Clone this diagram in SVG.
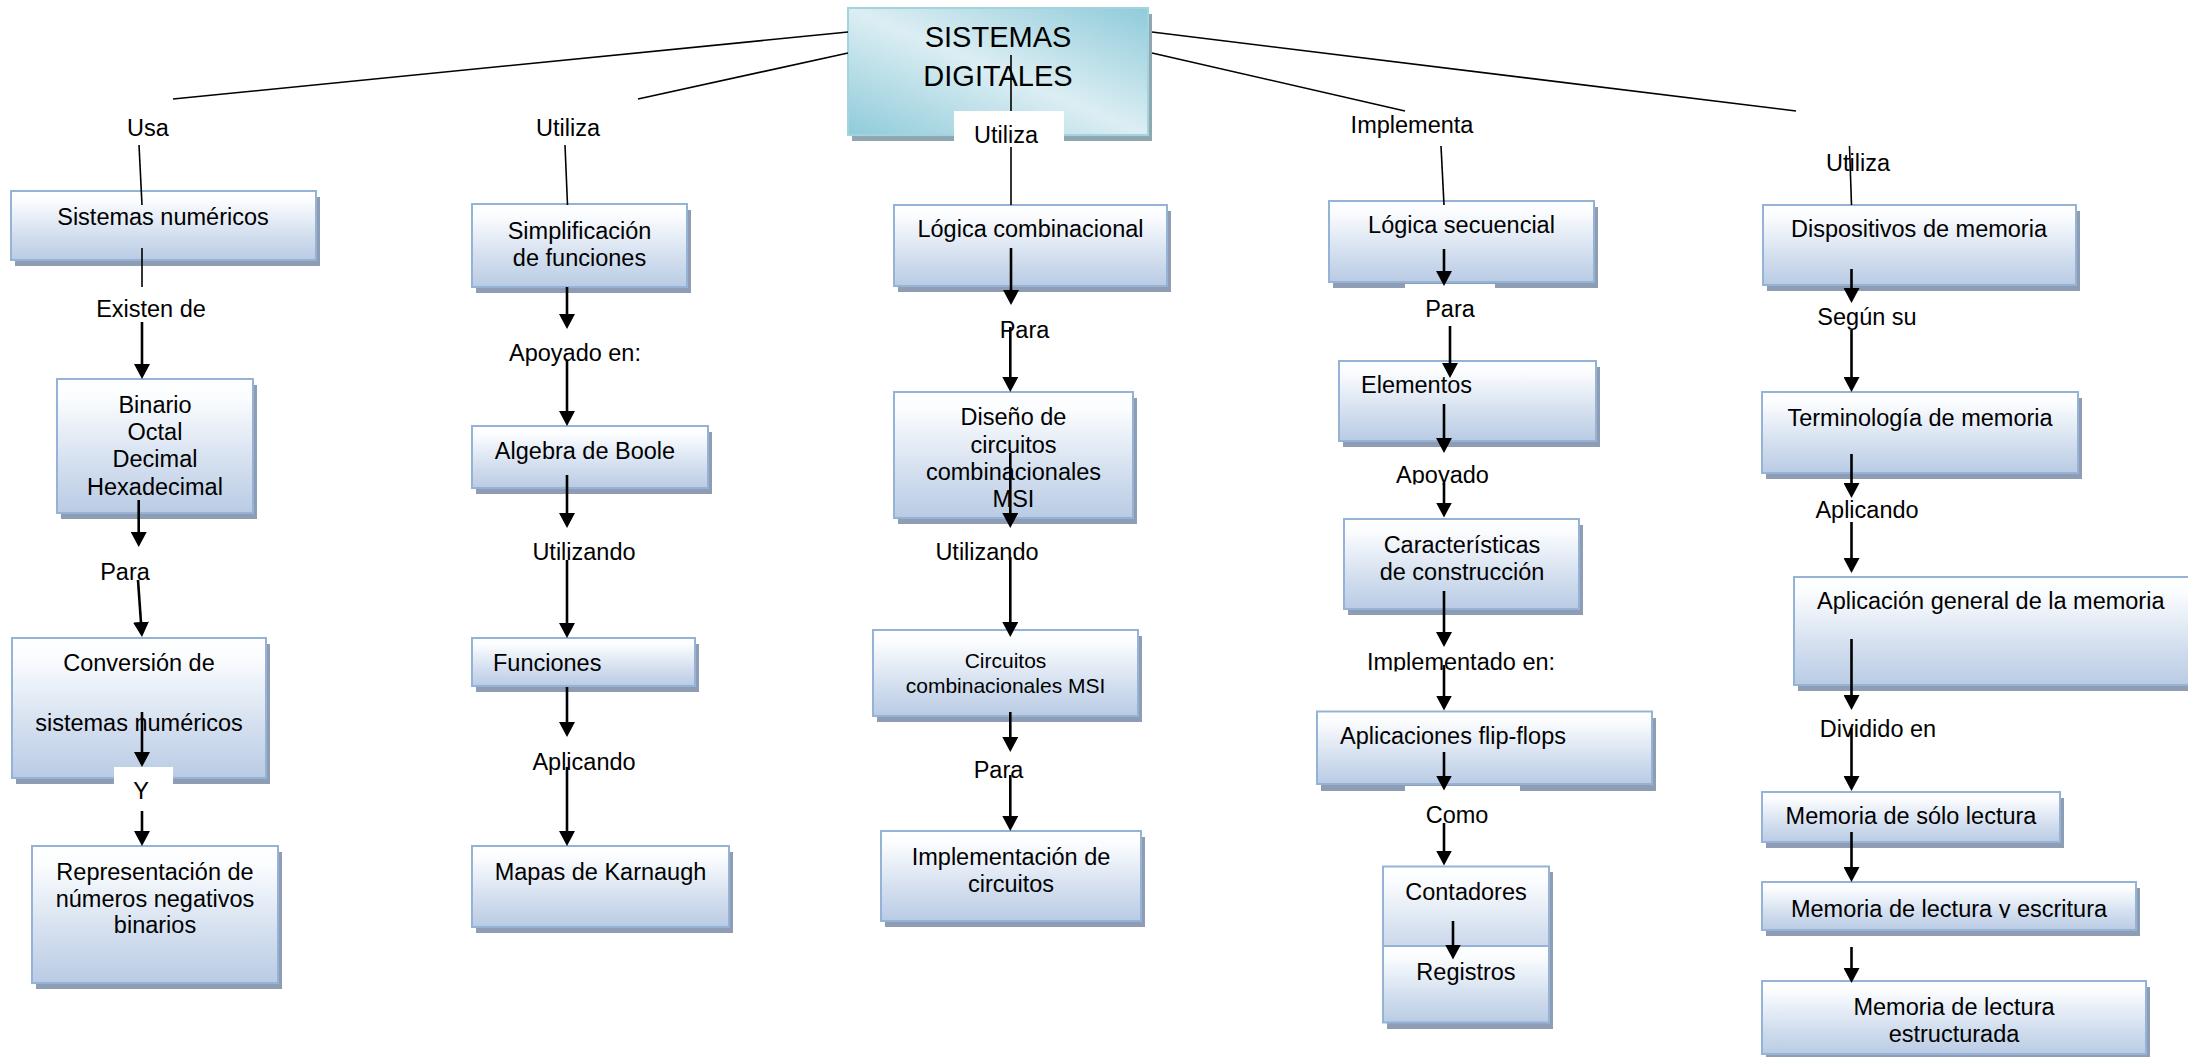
<svg xmlns="http://www.w3.org/2000/svg" width="2188" height="1057" viewBox="0 0 2188 1057">
  <defs>
    <linearGradient id="boxFill" x1="0" y1="0" x2="0" y2="1">
      <stop offset="0" stop-color="#ffffff"/>
      <stop offset="0.15" stop-color="#fafcfe"/>
      <stop offset="0.6" stop-color="#d6e1f0"/>
      <stop offset="1" stop-color="#b9cbe4"/>
    </linearGradient>
    <linearGradient id="rootFill" x1="1" y1="0" x2="0" y2="1">
      <stop offset="0" stop-color="#8fcbda"/>
      <stop offset="0.5" stop-color="#dceef3"/>
      <stop offset="1" stop-color="#8fcbda"/>
    </linearGradient>
    <marker id="head" viewBox="0 0 15 16" refX="5" refY="8" markerWidth="15" markerHeight="16" markerUnits="userSpaceOnUse" orient="auto">
      <path d="M0,0 L15,8 L0,16 Z" fill="#000"/>
    </marker>
    <clipPath id="clipApoyado" clipPathUnits="userSpaceOnUse"><rect x="1380" y="455" width="130" height="29.5"/></clipPath>
    <clipPath id="clipImpl" clipPathUnits="userSpaceOnUse"><rect x="1350" y="643" width="230" height="28.5"/></clipPath>
    <clipPath id="clipEscritura" clipPathUnits="userSpaceOnUse"><rect x="1770" y="890" width="360" height="28"/></clipPath>
  </defs>
  <style>
    .shadow { fill: #8f9db4; }
    .box { fill: url(#boxFill); stroke: #95b3d7; stroke-width: 2; }
    .root { fill: url(#rootFill); stroke: #a3d3df; stroke-width: 2; }
    .rootShadow { fill: #8ea7b0; }
    text { font-family: "Liberation Sans", Arial, sans-serif; font-size: 23.5px; fill: #000; }
    .c { text-anchor: middle; }
    .title { font-size: 29px; }
    .small { font-size: 21px; }
    .thin { stroke: #000; stroke-width: 1.6; fill: none; }
    .arrow { stroke: #000; stroke-width: 2.6; fill: none; marker-end: url(#head); }
    .blank { fill: #ffffff; }
  </style>

  <rect width="2188" height="1057" fill="#ffffff"/>

  <!-- root concept -->
  <g id="sistemas-digitales">
    <rect class="rootShadow" x="852" y="14" width="300" height="127"/>
    <rect class="root" x="848" y="8" width="300" height="127"/>
    <text class="c title" x="998" y="47">SISTEMAS</text>
    <text class="c title" x="998" y="86">DIGITALES</text>
  </g>

  <!-- column 1 -->
  <g id="sistemas-numericos">
    <rect class="shadow" x="15" y="197" width="305" height="69"/>
    <rect class="box" x="11" y="191" width="305" height="69"/>
    <text class="c" x="163" y="225">Sistemas numéricos</text>
  </g>
  <g id="binario">
    <rect class="shadow" x="61" y="385" width="196" height="134"/>
    <rect class="box" x="57" y="379" width="196" height="134"/>
    <text class="c" x="155" y="413">Binario</text>
    <text class="c" x="155" y="440">Octal</text>
    <text class="c" x="155" y="467">Decimal</text>
    <text class="c" x="155" y="495">Hexadecimal</text>
  </g>
  <g id="conversion">
    <rect class="shadow" x="16" y="644" width="254" height="140"/>
    <rect class="box" x="12" y="638" width="254" height="140"/>
    <text class="c" x="139" y="671">Conversión de</text>
    <text class="c" x="139" y="731">sistemas numéricos</text>
  </g>
  <g id="representacion">
    <rect class="shadow" x="36" y="852" width="246" height="137"/>
    <rect class="box" x="32" y="846" width="246" height="137"/>
    <text class="c" x="155" y="880">Representación de</text>
    <text class="c" x="155" y="907">números negativos</text>
    <text class="c" x="155" y="933">binarios</text>
  </g>

  <!-- column 2 -->
  <g id="simplificacion">
    <rect class="shadow" x="476" y="210" width="215" height="83"/>
    <rect class="box" x="472" y="204" width="215" height="83"/>
    <text class="c" x="579.5" y="239">Simplificación</text>
    <text class="c" x="579.5" y="266">de funciones</text>
  </g>
  <g id="algebra-boole">
    <rect class="shadow" x="476" y="432" width="236" height="62"/>
    <rect class="box" x="472" y="426" width="236" height="62"/>
    <text class="c" x="585" y="459">Algebra de Boole</text>
  </g>
  <g id="funciones">
    <rect class="shadow" x="476" y="644" width="223" height="48"/>
    <rect class="box" x="472" y="638" width="223" height="48"/>
    <text x="493" y="671">Funciones</text>
  </g>
  <g id="karnaugh">
    <rect class="shadow" x="476" y="852" width="257" height="81"/>
    <rect class="box" x="472" y="846" width="257" height="81"/>
    <text class="c" x="600.5" y="880">Mapas de Karnaugh</text>
  </g>

  <!-- column 3 -->
  <g id="logica-combinacional">
    <rect class="shadow" x="898" y="211" width="273" height="81"/>
    <rect class="box" x="894" y="205" width="273" height="81"/>
    <text class="c" x="1030.5" y="237">Lógica combinacional</text>
  </g>
  <g id="diseno-msi">
    <rect class="shadow" x="898" y="398" width="239" height="126"/>
    <rect class="box" x="894" y="392" width="239" height="126"/>
    <text class="c" x="1013.5" y="425">Diseño de</text>
    <text class="c" x="1013.5" y="453">circuitos</text>
    <text class="c" x="1013.5" y="480">combinacionales</text>
    <text class="c" x="1013.5" y="507">MSI</text>
  </g>
  <g id="circuitos-msi">
    <rect class="shadow" x="877" y="636" width="265" height="86"/>
    <rect class="box" x="873" y="630" width="265" height="86"/>
    <text class="c small" x="1005.5" y="668">Circuitos</text>
    <text class="c small" x="1005.5" y="693">combinacionales MSI</text>
  </g>
  <g id="implementacion">
    <rect class="shadow" x="885" y="837" width="260" height="90"/>
    <rect class="box" x="881" y="831" width="260" height="90"/>
    <text class="c" x="1011" y="865">Implementación de</text>
    <text class="c" x="1011" y="892">circuitos</text>
  </g>

  <!-- column 4 -->
  <g id="logica-secuencial">
    <rect class="shadow" x="1333" y="207" width="265" height="81"/>
    <rect class="box" x="1329" y="201" width="265" height="81"/>
    <text class="c" x="1461.5" y="233">Lógica secuencial</text>
  </g>
  <g id="elementos">
    <rect class="shadow" x="1343" y="367" width="257" height="80"/>
    <rect class="box" x="1339" y="361" width="257" height="80"/>
    <text x="1361" y="393">Elementos</text>
  </g>
  <g id="caracteristicas">
    <rect class="shadow" x="1348" y="525" width="235" height="90"/>
    <rect class="box" x="1344" y="519" width="235" height="90"/>
    <text class="c" x="1462" y="553">Características</text>
    <text class="c" x="1462" y="580">de construcción</text>
  </g>
  <g id="flip-flops">
    <rect class="shadow" x="1321" y="718" width="335" height="73"/>
    <rect class="box" x="1317" y="711.5" width="335" height="72.5"/>
    <text x="1340" y="744">Aplicaciones flip-flops</text>
  </g>
  <g id="contadores">
    <rect class="shadow" x="1387" y="872" width="166" height="107"/>
    <rect class="box" x="1383" y="866.5" width="166" height="106"/>
    <text class="c" x="1466" y="900">Contadores</text>
  </g>
  <g id="registros">
    <rect class="shadow" x="1387" y="952" width="166" height="77"/>
    <rect class="box" x="1383" y="946" width="166" height="76.5"/>
    <text class="c" x="1466" y="980">Registros</text>
  </g>

  <!-- column 5 -->
  <g id="dispositivos-memoria">
    <rect class="shadow" x="1767" y="211" width="313" height="80"/>
    <rect class="box" x="1763" y="205" width="313" height="80"/>
    <text class="c" x="1919" y="237">Dispositivos de memoria</text>
  </g>
  <g id="terminologia">
    <rect class="shadow" x="1766" y="398" width="316" height="81"/>
    <rect class="box" x="1762" y="392" width="316" height="81"/>
    <text class="c" x="1920" y="426">Terminología de memoria</text>
  </g>
  <g id="aplicacion-general">
    <rect class="shadow" x="1798" y="583" width="400" height="108"/>
    <rect class="box" x="1794" y="577" width="400" height="108"/>
    <text x="1817" y="609">Aplicación general de la memoria</text>
  </g>
  <g id="solo-lectura">
    <rect class="shadow" x="1766" y="798" width="298" height="50"/>
    <rect class="box" x="1762" y="792" width="298" height="50"/>
    <text class="c" x="1911" y="824">Memoria de sólo lectura</text>
  </g>
  <g id="lectura-escritura">
    <rect class="shadow" x="1766" y="888" width="374" height="48"/>
    <rect class="box" x="1762" y="882" width="374" height="48"/>
    <text class="c" x="1949" y="917" clip-path="url(#clipEscritura)">Memoria de lectura y escritura</text>
  </g>
  <g id="lectura-estructurada">
    <rect class="shadow" x="1766" y="987" width="384" height="73"/>
    <rect class="box" x="1762" y="981" width="384" height="73"/>
    <text class="c" x="1954" y="1015">Memoria de lectura</text>
    <text class="c" x="1954" y="1042">estructurada</text>
  </g>

  <!-- link labels -->
  <g id="labels">
    <rect class="blank" x="954" y="111" width="110" height="36"/>
    <rect class="blank" x="114" y="767" width="59" height="40"/>
    <rect class="blank" x="1405" y="284" width="90" height="20"/>
    <rect class="blank" x="1405" y="786" width="115" height="20"/>
    <text class="c" x="148" y="136">Usa</text>
    <text class="c" x="568" y="136">Utiliza</text>
    <text class="c" x="1006" y="143">Utiliza</text>
    <text class="c" x="1412" y="133">Implementa</text>
    <text class="c" x="1858" y="171">Utiliza</text>
    <text class="c" x="151" y="317">Existen de</text>
    <text class="c" x="125" y="580">Para</text>
    <text class="c" x="141" y="799">Y</text>
    <text class="c" x="575" y="361">Apoyado en:</text>
    <text class="c" x="584" y="560">Utilizando</text>
    <text class="c" x="584" y="770">Aplicando</text>
    <text class="c" x="1024.5" y="338">Para</text>
    <text class="c" x="987" y="560">Utilizando</text>
    <text class="c" x="998.5" y="778">Para</text>
    <text class="c" x="1450" y="317">Para</text>
    <text class="c" x="1442.5" y="483" clip-path="url(#clipApoyado)">Apoyado</text>
    <text class="c" x="1461" y="670" clip-path="url(#clipImpl)">Implementado en:</text>
    <text class="c" x="1457" y="823">Como</text>
    <text class="c" x="1867" y="325">Según su</text>
    <text class="c" x="1867" y="518">Aplicando</text>
    <text class="c" x="1878" y="737">Dividido en</text>
  </g>

  <!-- connectors -->
  <g id="connectors">
    <!-- from the root concept -->
    <path class="thin" d="M173,99 L848,32"/>
    <path class="thin" d="M638,99 L848,53"/>
    <path class="thin" d="M1152,53 L1405,111"/>
    <path class="thin" d="M1152,32 L1796,111"/>
    <path class="thin" d="M1011,55 V111"/>
    <path class="thin" d="M1011,147 V205"/>
    <path class="thin" d="M139,145 L142,205"/>
    <path class="thin" d="M565,145 L567.5,205"/>
    <path class="thin" d="M1441,146 L1444,205"/>
    <path class="thin" d="M1849.5,146 L1851.5,205"/>

    <!-- column 1 -->
    <path class="thin" d="M142,248 V287"/>
    <path class="arrow" d="M142,322 V369"/>
    <path class="arrow" d="M138.7,500 V537"/>
    <path class="arrow" d="M138,580 L141.3,627"/>
    <path class="arrow" d="M142,712 V757"/>
    <path class="arrow" d="M142,811 V836"/>

    <!-- column 2 -->
    <path class="arrow" d="M567,287 V319"/>
    <path class="arrow" d="M567,360 V416"/>
    <path class="arrow" d="M567,475 V518"/>
    <path class="arrow" d="M567,560 V628"/>
    <path class="arrow" d="M567,687 V727"/>
    <path class="arrow" d="M567,767 V836"/>

    <!-- column 3 -->
    <path class="arrow" d="M1011,248 V295"/>
    <path class="arrow" d="M1010.3,327 V382"/>
    <path class="arrow" d="M1010.3,453 V518"/>
    <path class="arrow" d="M1010.3,557 V627"/>
    <path class="arrow" d="M1010.3,712 V742"/>
    <path class="arrow" d="M1010.3,775 V821"/>

    <!-- column 4 -->
    <path class="arrow" d="M1444,249 V276"/>
    <path class="arrow" d="M1450,326 V368"/>
    <path class="arrow" d="M1444,404 V443"/>
    <path class="arrow" d="M1444,483 V507.5"/>
    <path class="arrow" d="M1444,591 V637"/>
    <path class="arrow" d="M1444,665 V700.5"/>
    <path class="arrow" d="M1444,752 V780.5"/>
    <path class="arrow" d="M1444,823 V855.5"/>
    <path class="arrow" d="M1453,921 V949.5"/>

    <!-- column 5 -->
    <path class="arrow" d="M1851.5,269 V293"/>
    <path class="arrow" d="M1851.5,330 V382"/>
    <path class="arrow" d="M1851.5,454 V488"/>
    <path class="arrow" d="M1851.5,522 V563"/>
    <path class="arrow" d="M1851.5,639 V700"/>
    <path class="arrow" d="M1851.5,728 V781"/>
    <path class="arrow" d="M1851.5,832 V872"/>
    <path class="arrow" d="M1851.5,947 V973"/>
  </g>
</svg>
